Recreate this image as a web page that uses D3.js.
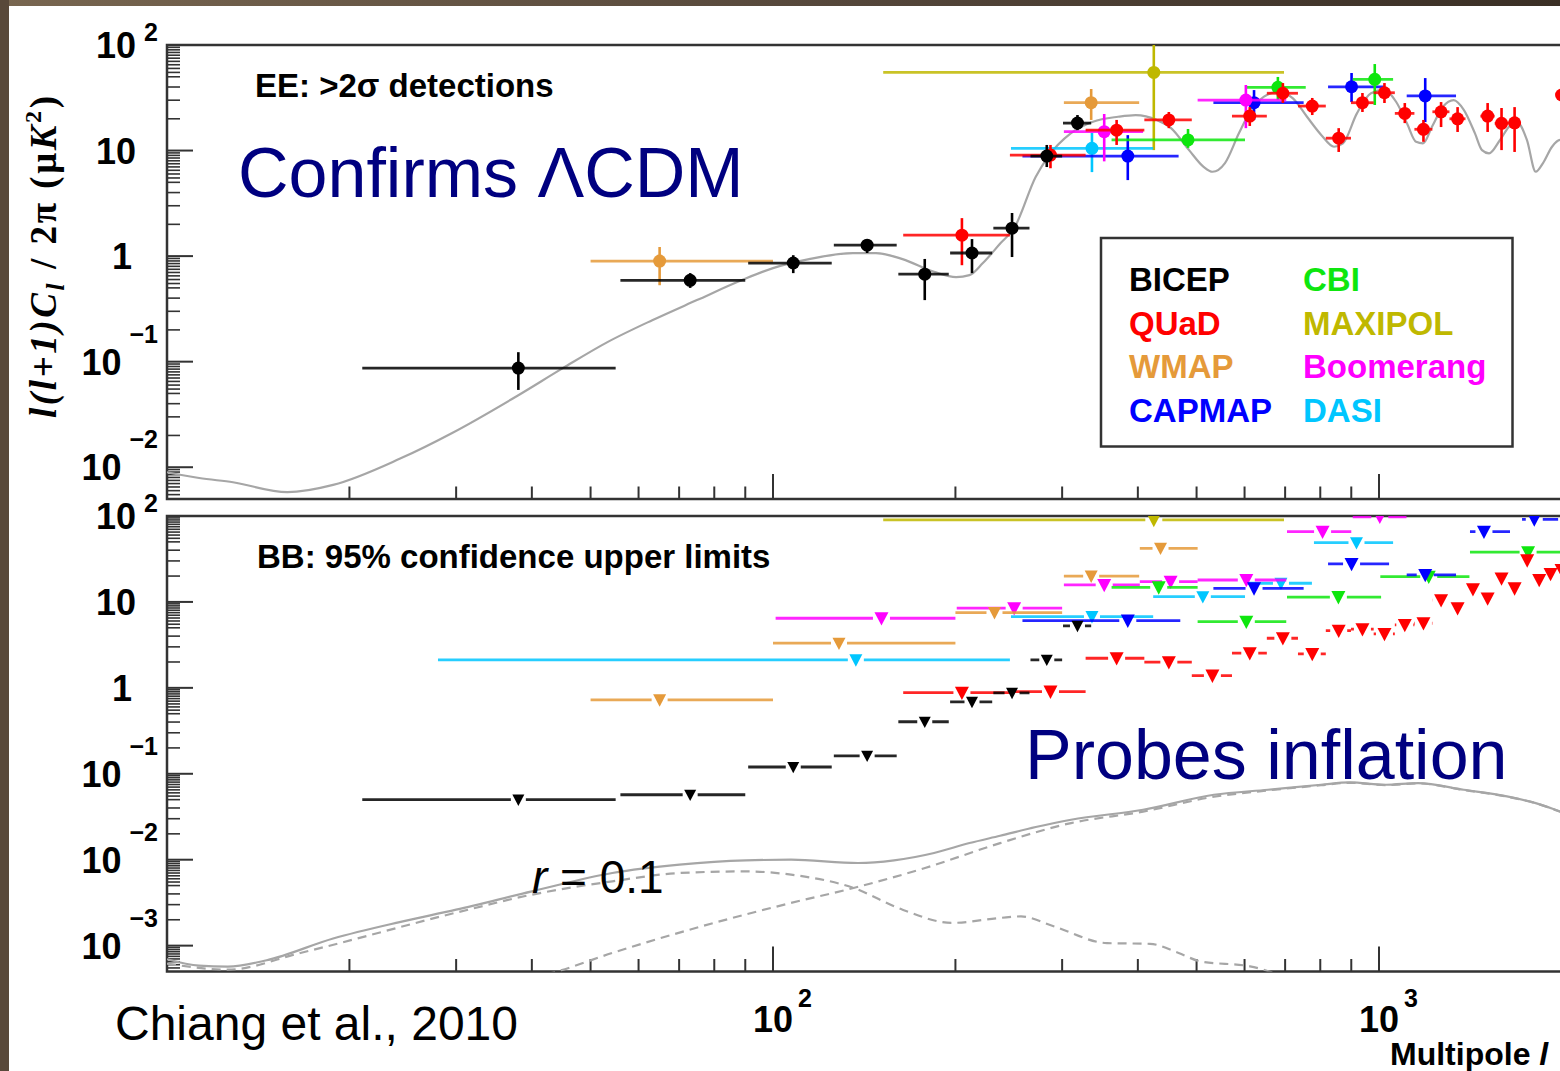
<!DOCTYPE html>
<html>
<head>
<meta charset="utf-8">
<script src="https://cdn.jsdelivr.net/npm/d3@7"></script>
<style>
  html, body { margin: 0; padding: 0; background: #fff; overflow: hidden; }
  svg { display: block; }
  text { font-family: "Liberation Sans", Arial, Helvetica, sans-serif; }
</style>
</head>
<body>
<svg id="chart" width="1560" height="1071"></svg>
<script>
// ---------------- Data ----------------
// Multipole ranges of the two panels
const ellDomain = [10, 2500];
const eeDomain = [0.005, 100];
const bbDomain = [0.0005, 100];
const eeTickExponents = [2, 1, 0, -1, -2];
const bbTickExponents = [2, 1, 0, -1, -2, -3];
const ellTickExponents = [2, 3];

// BICEP
const bicepEll = [38, 73, 108, 143, 178, 213, 248, 283, 318];
const bicepLo = [21, 56, 91, 126, 161, 196, 231, 266, 301];
const bicepHi = [55, 90, 125, 160, 195, 230, 265, 300, 335];
const bicepEE = [0.087, 0.59, 0.86, 1.27, 0.675, 1.07, 1.84, 8.87, 18.2];
const bicepEEUp = [0.123, 0.69, 1.02, 1.45, 0.94, 1.45, 2.56, 11.3, 21.7];
const bicepEELow = [0.054, 0.50, 0.69, 1.07, 0.383, 0.69, 0.98, 6.98, 15.6];
const bicepBB = [0.050, 0.057, 0.12, 0.162, 0.403, 0.687, 0.875, 2.12, 5.26];

// QUaD
const quadEll = [205, 287, 369, 450, 531, 612, 694, 776, 858, 939, 1021, 1103, 1184, 1266, 1348, 1429, 1511, 1593, 1674, 1756, 1838, 1919, 2001];
const quadLo = [164, 246, 328, 410, 491, 572, 653, 735, 817, 899, 980, 1062, 1144, 1225, 1307, 1389, 1470, 1552, 1634, 1715, 1797, 1879, 1960];
const quadHi = [246, 328, 410, 491, 572, 653, 735, 817, 899, 980, 1062, 1144, 1225, 1307, 1389, 1470, 1552, 1634, 1715, 1797, 1879, 1960, 2042];
const quadEE = [1.58, 9.06, 15.6, 19.5, null, 21.2, 34.9, 26.4, 13.1, 28.4, 35.3, 22.5, 15.9, 23.3, 20.0, null, 21.2, 18.1, 18.3, null, null, null, 33.6];
const quadEEUp = [2.29, 11.3, 19.5, 23.2, null, 25.8, 43.6, 31.5, 16.3, 35.1, 43.6, 28.2, 19.5, 28.8, 25.8, null, 28.2, 25.3, 25.8, null, null, null, 46.6];
const quadEELow = [0.82, 6.8, 11.3, 16.3, null, 17.1, 28.2, 21.7, 9.7, 23.2, 28.2, 18.2, 12.1, 16.7, 15.0, null, 15.0, 10.1, 9.7, null, null, null, 24.2];
const quadBB = [0.88, 0.906, 2.21, 1.99, 1.39, 2.53, 3.78, 2.48, 4.64, 4.82, 4.25, 5.41, 5.65, 10.5, 8.45, 14.1, 11.0, 18.8, 14.4, 30.5, 18.0, 21.2, 23.6];

// WMAP
const wmapEEEll = [65, 335];
const wmapEELo = [50, 302];
const wmapEEHi = [100, 402];
const wmapEE = [0.897, 28.4];
const wmapEEUp = [1.22, 38.3];
const wmapEELow = [0.53, 19.5];
const wmapBBEll = [65, 128.5, 232, 335, 436];
const wmapBBLo = [50, 100, 200, 302, 403];
const wmapBBHi = [100, 200, 300, 402, 502];
const wmapBB = [0.725, 3.31, 7.51, 20.0, 42.1];

// CAPMAP
const capmapEEEll = [385, 622, 901, 1192];
const capmapEELo = [258, 533, 824, 1111];
const capmapEEHi = [467, 751, 1022, 1340];
const capmapEE = [8.87, 28.4, 40.2, 32.9];
const capmapEEUp = [14.0, 37.4, 54.3, 48.6];
const capmapEELow = [5.25, 19.5, 28.8, 18.6];
const capmapBBEll = [385, 622, 901, 1192, 1490, 1804];
const capmapBBLo = [258, 533, 824, 1111, 1413, 1722];
const capmapBBHi = [470, 751, 1039, 1340, 1645, 1975];
const capmapBB = [6.07, 14.4, 27.7, 20.6, 65.7, 91.5];

// CBI
const cbiEEEll = [484, 681, 984];
const cbiEELo = [362, 601, 905];
const cbiEEHi = [601, 757, 1055];
const cbiEE = [12.6, 39.7, 47.3];
const cbiEEUp = [16.0, 49.8, 66.0];
const cbiEELow = [10.6, 30.1, 27.0];
const cbiBBEll = [433, 604, 857, 1208, 1762];
const cbiBBLo = [362, 502, 705, 1005, 1413];
const cbiBBHi = [502, 703, 1008, 1410, 2200];
const cbiBB = [14.8, 5.9, 11.4, 19.7, 38.0];

// MAXIPOL
const maxipolEll = [425];
const maxipolLo = [152];
const maxipolHi = [697];
const maxipolEE = [55];
const maxipolEEUp = [150];
const maxipolEELow = [10.1];
const maxipolBB = [90];

// Boomerang
const boomEEEll = [352, 603];
const boomEELo = [302, 502];
const boomEEHi = [408, 703];
const boomEE = [15.1, 30.1];
const boomEEUp = [22.2, 41.8];
const boomEELow = [7.9, 16.3];
const boomBBEll = [151, 250, 352, 453, 604, 807, 1003];
const boomBBLo = [101, 201, 302, 403, 502, 705, 905];
const boomBBHi = [200, 300, 403, 502, 703, 900, 1110];
const boomBB = [6.46, 8.45, 15.8, 17.2, 18.0, 65.7, 98];

// DASI
const dasiEEEll = [336];
const dasiEELo = [247];
const dasiEEHi = [424];
const dasiEE = [10.5];
const dasiEEUp = [14.7];
const dasiEELow = [6.25];
const dasiBBEll = [137, 336, 512, 689, 918];
const dasiBBLo = [28, 247, 424, 601, 781];
const dasiBBHi = [246, 424, 601, 775, 1055];
const dasiBB = [2.12, 6.75, 11.5, 16.5, 48.9];

// LCDM EE spectrum
const eeModelEll = [10, 11.3, 12.85, 15.8, 18.8, 24.2, 29.5, 38.0, 45.0, 53.4, 63.2, 74.9, 88.9, 100, 114.7, 135.5, 147.9, 163.6, 184.4, 200.5, 211, 222, 237.5, 250, 271.4, 284.3, 310.3, 337.3, 371, 396.7, 430.2, 453.8, 485.9, 513.5, 531.2, 557, 587.5, 612.6, 646, 683, 721, 760.6, 803.5, 842.8, 872, 919.5, 970, 1019, 1067, 1112, 1151, 1182, 1223, 1275, 1328, 1381, 1440, 1479, 1519, 1584, 1650, 1696, 1754, 1814, 1865, 1930, 1990, 2100];
const eeModelDl = [0.00897, 0.0079, 0.0072, 0.0058, 0.0068, 0.0120, 0.021, 0.0481, 0.0868, 0.154, 0.247, 0.383, 0.593, 0.770, 0.937, 1.068, 1.068, 0.937, 0.71, 0.632, 0.66, 0.859, 1.328, 1.84, 5.65, 8.73, 14.65, 18.75, 20.9, 21.7, 19.45, 16.34, 10.1, 7.02, 6.3, 7.61, 14.65, 23.3, 32.4, 36.1, 31.2, 20.9, 14.0, 10.87, 11.7, 22.5, 34.85, 37.5, 29.0, 18.1, 12.1, 11.7, 16.8, 26.0, 30.1, 24.2, 14.55, 10.1, 9.41, 12.6, 17.4, 18.1, 12.6, 6.3, 7.61, 10.87, 12.6, 11.0];

// BB spectra: lensing + r = 0.1 tensors (total), lensing alone, tensors alone
const bbTotalEll = [10, 11.3, 12.6, 14.6, 18.8, 24.2, 30.0, 40.0, 54.3, 70.1, 90.2, 107.1, 138.1, 158.4, 184.4, 211, 237, 271.4, 310.3, 408, 534, 656, 802, 895, 1026, 1160, 1380, 1626, 1814, 1990, 2100];
const bbTotalDl = [0.000695, 0.000585, 0.00057, 0.000675, 0.00121, 0.00188, 0.00262, 0.00428, 0.0070, 0.00875, 0.00982, 0.0100, 0.00915, 0.00982, 0.01197, 0.01563, 0.0190, 0.0240, 0.0292, 0.0381, 0.057, 0.0652, 0.0745, 0.0793, 0.0745, 0.078, 0.0652, 0.0545, 0.0456, 0.0365, 0.032];
const bbLensEll = [40, 44, 54.3, 76.3, 107.1, 135.8, 178.2, 237, 310.3, 408, 534, 656, 802, 895, 1026, 1160, 1380, 1626, 1814, 1990, 2100];
const bbLensDl = [0.00042, 0.0005, 0.000822, 0.00168, 0.00314, 0.00469, 0.0080, 0.0156, 0.0267, 0.0363, 0.054, 0.064, 0.0735, 0.0785, 0.0738, 0.0772, 0.0648, 0.0542, 0.0454, 0.0363, 0.032];
const bbTensorEll = [10, 12.6, 16.6, 30.0, 40.0, 54.3, 70.1, 90.2, 107.1, 135.8, 163.6, 197.2, 237, 256.6, 290.4, 355.8, 418.8, 467, 506.6, 612.6, 690];
const bbTensorDl = [0.000618, 0.000526, 0.000822, 0.00242, 0.00392, 0.0056, 0.0070, 0.00731, 0.0067, 0.00469, 0.00262, 0.00184, 0.0021, 0.00219, 0.00168, 0.00107, 0.00105, 0.000822, 0.000657, 0.000574, 0.00045];

// Legend entries (two columns)
const legendCol1 = ["BICEP", "QUaD", "WMAP", "CAPMAP"];
const legendCol2 = ["CBI", "MAXIPOL", "Boomerang", "DASI"];

// ---------------- Styles ----------------
const colors = {
  BICEP: "#000000", QUaD: "#ff0000", WMAP: "#e59a3a", CAPMAP: "#0000ff",
  CBI: "#0ee60e", MAXIPOL: "#bfb800", Boomerang: "#ff00ff", DASI: "#00c6ff"
};
const navy = "#000080";
const frameColor = "#333";

// ---------------- Scales ----------------
const X0 = 167, DECADE_X = 606;
const x = d3.scaleLog().domain(ellDomain).range([X0, X0 + DECADE_X * Math.log10(ellDomain[1] / ellDomain[0])]);
const top1 = 45, bot1 = 499, top2 = 516, bot2 = 971.5;
const yEE = d3.scaleLog().domain(eeDomain).range([bot1, top1]);
const yBB = d3.scaleLog().domain(bbDomain).range([bot2, top2]);

const svg = d3.select("#chart");

// Slide background with its dark border
svg.append("rect").attr("width", 1560).attr("height", 1071).attr("fill", "#fff");
const defs = svg.append("defs");
const grad = defs.append("linearGradient").attr("id", "borderTop");
grad.append("stop").attr("offset", "0%").attr("stop-color", "#786650");
grad.append("stop").attr("offset", "55%").attr("stop-color", "#54463a");
grad.append("stop").attr("offset", "100%").attr("stop-color", "#3a2f25");
svg.append("rect").attr("x", 0).attr("y", 0).attr("width", 1560).attr("height", 6).attr("fill", "url(#borderTop)");
svg.append("rect").attr("x", 0).attr("y", 0).attr("width", 9).attr("height", 1071).attr("fill", "#59493a");

// Clip regions for the two panels
defs.append("clipPath").attr("id", "clipEE").append("rect")
  .attr("x", X0).attr("y", top1).attr("width", 1560 - X0).attr("height", bot1 - top1);
defs.append("clipPath").attr("id", "clipBB").append("rect")
  .attr("x", X0).attr("y", top2).attr("width", 1560 - X0).attr("height", bot2 - top2);

// ---------------- Axes ----------------
const minorMantissa = [2, 3, 4, 5, 5.5, 6, 6.5, 7, 7.5, 8, 8.5, 9, 9.5];

function drawFrame(y, yt, yb, exps) {
  const g = svg.append("g");
  // y ticks (inside, on the left edge)
  const [d0, d1] = y.domain();
  for (let e = Math.floor(Math.log10(d0)) - 1; e <= Math.ceil(Math.log10(d1)); e++) {
    const major = Math.pow(10, e);
    if (major >= d0 * 0.999 && major <= d1 * 1.001) {
      g.append("line").attr("x1", X0).attr("x2", X0 + 26).attr("y1", y(major)).attr("y2", y(major))
        .attr("stroke", frameColor).attr("stroke-width", 2);
    }
    minorMantissa.forEach(m => {
      const v = m * major;
      if (v <= d0 || v >= d1) return;
      g.append("line").attr("x1", X0).attr("x2", X0 + 13).attr("y1", y(v)).attr("y2", y(v))
        .attr("stroke", frameColor).attr("stroke-width", 1.6);
    });
  }
  // x ticks (inside, on the bottom edge)
  for (let e = 1; e <= 3; e++) {
    for (let m = 1; m <= 9; m++) {
      const v = m * Math.pow(10, e);
      if (v <= ellDomain[0] || v >= ellDomain[1]) continue;
      const len = m === 1 ? 25 : 12.5;
      g.append("line").attr("x1", x(v)).attr("x2", x(v)).attr("y1", yb).attr("y2", yb - len)
        .attr("stroke", frameColor).attr("stroke-width", 2);
    }
  }
  // frame box
  g.append("rect").attr("x", X0).attr("y", yt).attr("width", 1600).attr("height", yb - yt)
    .attr("fill", "none").attr("stroke", frameColor).attr("stroke-width", 2.5);

  // y tick labels: 10 with exponent
  exps.forEach(e => {
    const yy = y(Math.pow(10, e));
    if (e === 0 || e === 1) {
      g.append("text").attr("x", e === 0 ? 132 : 136).attr("y", yy).attr("dy", "0.36em")
        .attr("text-anchor", "end").attr("font-size", 36).attr("font-weight", "bold").text(e === 0 ? "1" : "10");
    } else {
      const ex = g.append("text").attr("x", 158).attr("y", yy - (e > 0 ? 13 : 28)).attr("dy", "0.36em")
        .attr("text-anchor", "end").attr("font-size", 25).attr("font-weight", "bold")
        .text(e < 0 ? "\u2212" + (-e) : String(e));
      const w = ex.node().getComputedTextLength();
      g.append("text").attr("x", 158 - w - 8).attr("y", yy).attr("dy", "0.36em")
        .attr("text-anchor", "end").attr("font-size", 36).attr("font-weight", "bold").text("10");
    }
  });
  return g;
}

drawFrame(yEE, top1, bot1, eeTickExponents);
drawFrame(yBB, top2, bot2, bbTickExponents);

// x tick labels
ellTickExponents.forEach(e => {
  const xx = x(Math.pow(10, e));
  svg.append("text").attr("x", xx).attr("y", 1032).attr("text-anchor", "middle")
    .attr("font-size", 36).attr("font-weight", "bold").text("10");
  svg.append("text").attr("x", xx + 25).attr("y", 1007)
    .attr("font-size", 25).attr("font-weight", "bold").text(String(e));
});
const xTitle = svg.append("text").attr("x", 1390).attr("y", 1065).attr("font-size", 32).attr("font-weight", "bold");
xTitle.append("tspan").text("Multipole ");
xTitle.append("tspan").attr("font-style", "italic").text("l");

// y title
const yTitle = svg.append("text")
  .attr("transform", "translate(56,257) rotate(-90)")
  .attr("text-anchor", "middle")
  .attr("textLength", 322).attr("lengthAdjust", "spacing")
  .style("font-family", "'Liberation Serif', 'Times New Roman', serif")
  .attr("font-size", 37).attr("font-weight", "bold");
yTitle.append("tspan").attr("font-style", "italic").text("l(l+1)C");
yTitle.append("tspan").attr("font-style", "italic").attr("font-size", 25).attr("dy", 8).text("l");
yTitle.append("tspan").attr("dy", -8).text(" / 2\u03c0   (\u03bc");
yTitle.append("tspan").attr("font-style", "italic").text("K");
yTitle.append("tspan").attr("font-size", 24).attr("dy", -15).text("2");
yTitle.append("tspan").attr("dy", 15).text(")");

// ---------------- Model curves ----------------
const gEE = svg.append("g").attr("clip-path", "url(#clipEE)");
const gBB = svg.append("g").attr("clip-path", "url(#clipBB)");

function curve(g, yScale, ells, vals, dashed) {
  const line = d3.line().x(d => x(d[0])).y(d => yScale(d[1])).curve(d3.curveMonotoneX);
  g.append("path").datum(d3.zip(ells, vals)).attr("d", line)
    .attr("fill", "none").attr("stroke", "#a6a6a6").attr("stroke-width", 2.2)
    .attr("stroke-dasharray", dashed ? "9,6" : null);
}
curve(gEE, yEE, eeModelEll, eeModelDl, false);
curve(gBB, yBB, bbTotalEll, bbTotalDl, false);
curve(gBB, yBB, bbLensEll, bbLensDl, true);
curve(gBB, yBB, bbTensorEll, bbTensorDl, true);

// ---------------- Band powers ----------------
function detections(color, ell, lo, hi, val, up, low) {
  ell.forEach((l, i) => {
    if (val[i] == null) return;
    const cx = x(l), cy = yEE(val[i]);
    gEE.append("line").attr("x1", x(lo[i])).attr("x2", x(hi[i])).attr("y1", cy).attr("y2", cy)
      .attr("stroke", color).attr("stroke-width", 2.8).attr("stroke-opacity", 0.85);
    gEE.append("line").attr("x1", cx).attr("x2", cx).attr("y1", yEE(up[i])).attr("y2", yEE(low[i]))
      .attr("stroke", color).attr("stroke-width", 2.6);
    gEE.append("circle").attr("cx", cx).attr("cy", cy).attr("r", 6.5).attr("fill", color);
  });
}

function upperLimits(color, ell, lo, hi, val, half) {
  ell.forEach((l, i) => {
    if (val[i] == null) return;
    const cx = x(l), cy = yBB(val[i]);
    const gap = half + 1.5;
    if (x(lo[i]) < cx - gap)
      gBB.append("line").attr("x1", x(lo[i])).attr("x2", cx - gap).attr("y1", cy).attr("y2", cy)
        .attr("stroke", color).attr("stroke-width", 2.8).attr("stroke-opacity", 0.85);
    if (x(hi[i]) > cx + gap)
      gBB.append("line").attr("x1", cx + gap).attr("x2", x(hi[i])).attr("y1", cy).attr("y2", cy)
        .attr("stroke", color).attr("stroke-width", 2.8).attr("stroke-opacity", 0.85);
    gBB.append("path")
      .attr("d", `M${cx - half},${cy - half * 0.85}L${cx + half},${cy - half * 0.85}L${cx},${cy + half * 1.05}Z`)
      .attr("fill", color);
  });
}

// BB limits
upperLimits(colors.DASI, dasiBBEll, dasiBBLo, dasiBBHi, dasiBB, 6.5);
upperLimits(colors.Boomerang, boomBBEll, boomBBLo, boomBBHi, boomBB, 7);
upperLimits(colors.MAXIPOL, maxipolEll, maxipolLo, maxipolHi, maxipolBB, 7);
upperLimits(colors.CBI, cbiBBEll, cbiBBLo, cbiBBHi, cbiBB, 7);
upperLimits(colors.CAPMAP, capmapBBEll, capmapBBLo, capmapBBHi, capmapBB, 7);
upperLimits(colors.WMAP, wmapBBEll, wmapBBLo, wmapBBHi, wmapBB, 6.5);
upperLimits(colors.QUaD, quadEll, quadLo, quadHi, quadBB, 7);
upperLimits(colors.BICEP, bicepEll, bicepLo, bicepHi, bicepBB, 6);

// EE detections
detections(colors.MAXIPOL, maxipolEll, maxipolLo, maxipolHi, maxipolEE, maxipolEEUp, maxipolEELow);
detections(colors.DASI, dasiEEEll, dasiEELo, dasiEEHi, dasiEE, dasiEEUp, dasiEELow);
detections(colors.CAPMAP, capmapEEEll, capmapEELo, capmapEEHi, capmapEE, capmapEEUp, capmapEELow);
detections(colors.CBI, cbiEEEll, cbiEELo, cbiEEHi, cbiEE, cbiEEUp, cbiEELow);
detections(colors.WMAP, wmapEEEll, wmapEELo, wmapEEHi, wmapEE, wmapEEUp, wmapEELow);
detections(colors.Boomerang, boomEEEll, boomEELo, boomEEHi, boomEE, boomEEUp, boomEELow);
detections(colors.QUaD, quadEll, quadLo, quadHi, quadEE, quadEEUp, quadEELow);
detections(colors.BICEP, bicepEll, bicepLo, bicepHi, bicepEE, bicepEEUp, bicepEELow);

// ---------------- Panel labels & legend ----------------
svg.append("text").attr("x", 255).attr("y", 97).attr("font-size", 33).attr("font-weight", "bold")
  .text("EE: >2\u03c3 detections");
svg.append("text").attr("x", 257).attr("y", 568).attr("font-size", 33).attr("font-weight", "bold")
  .text("BB: 95% confidence upper limits");

const legend = svg.append("g");
legend.append("rect").attr("x", 1101).attr("y", 238).attr("width", 411.5).attr("height", 208.5)
  .attr("fill", "#fff").attr("stroke", frameColor).attr("stroke-width", 2.5);
[legendCol1, legendCol2].forEach((col, c) => {
  col.forEach((name, r) => {
    legend.append("text").attr("x", c === 0 ? 1129 : 1303).attr("y", 291 + r * 43.6)
      .attr("font-size", 33).attr("font-weight", "bold").attr("fill", colors[name]).text(name);
  });
});

// ---------------- Annotations ----------------
svg.append("text").attr("x", 238).attr("y", 197).attr("font-size", 70).attr("fill", navy)
  .text("Confirms \u039bCDM");
svg.append("text").attr("x", 1025).attr("y", 779).attr("font-size", 70).attr("fill", navy)
  .text("Probes inflation");
const rLabel = svg.append("text").attr("x", 532).attr("y", 893).attr("font-size", 46).attr("fill", "#000");
rLabel.append("tspan").attr("font-style", "italic").text("r");
rLabel.append("tspan").text(" = 0.1");
svg.append("text").attr("x", 115).attr("y", 1040).attr("font-size", 48).attr("fill", "#000")
  .text("Chiang et al., 2010");
</script>
</body>
</html>
